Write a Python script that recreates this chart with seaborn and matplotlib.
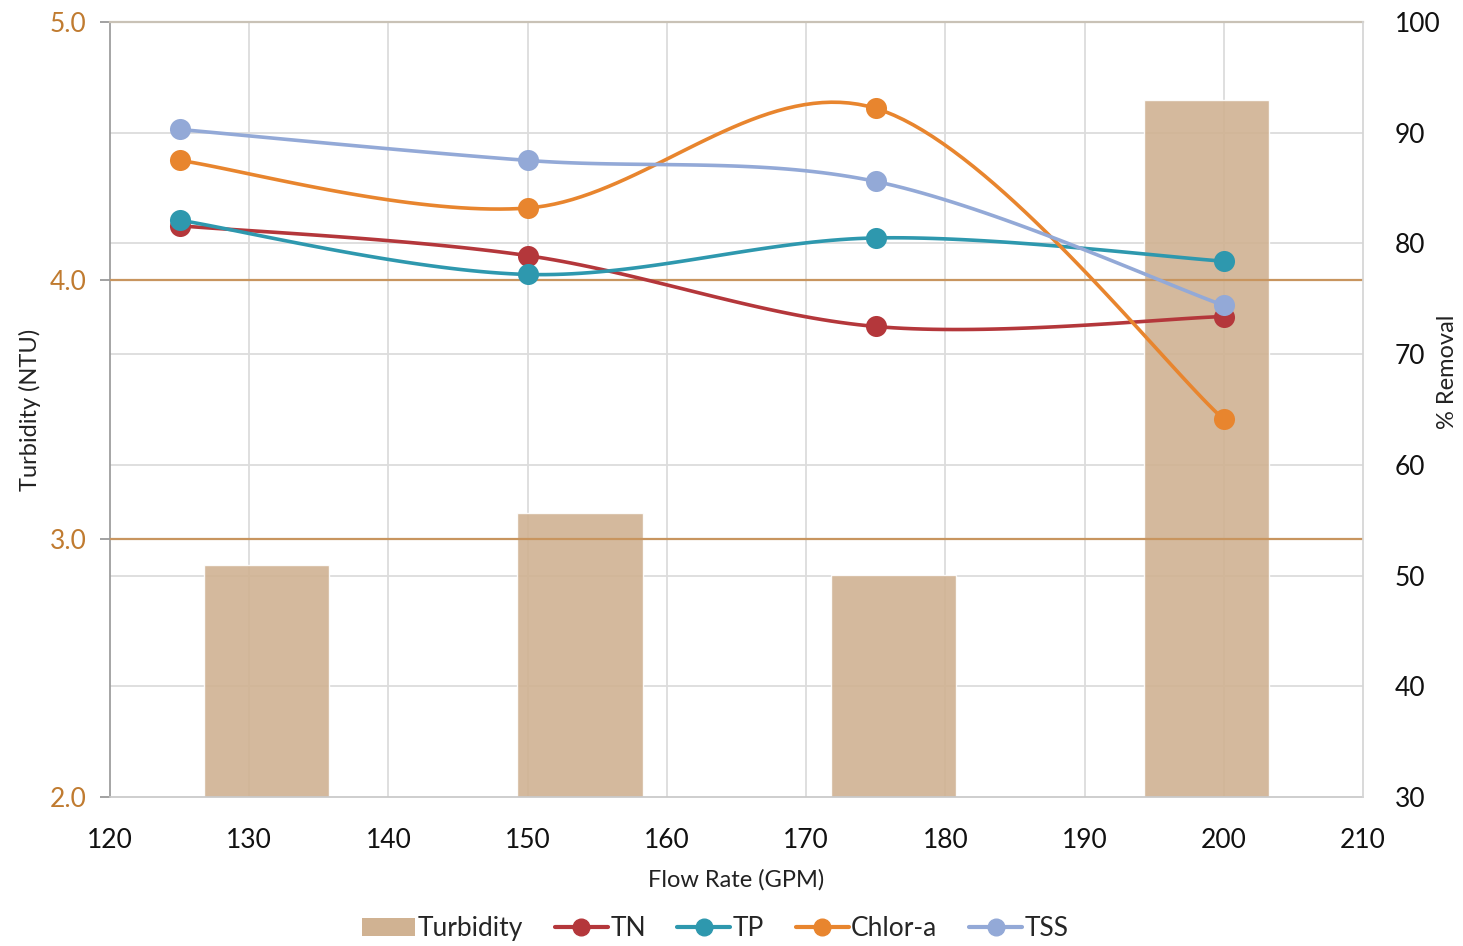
import numpy as np
import matplotlib
matplotlib.use("Agg")
import matplotlib.pyplot as plt
import seaborn as sns
from matplotlib.patches import Patch
from matplotlib.lines import Line2D

flow = [125, 150, 175, 200]
bar_pos = [131.25, 153.75, 176.25, 198.75]
turbidity = [2.90, 3.10, 2.86, 4.70]
tn = [81.6, 78.9, 72.5, 73.4]
tp = [82.1, 77.2, 80.5, 78.4]
chlor = [87.5, 83.2, 92.2, 64.1]
tss = [90.3, 87.5, 85.6, 74.4]

series = {"TN": (tn, "#b4373b"), "TP": (tp, "#2e98ae"),
          "Chlor-a": (chlor, "#e8852e"), "TSS": (tss, "#93a9d7")}


def smooth(x, y, n=40):
    # catmull-rom curve through the points, like Excel's smoothed line
    p = np.column_stack([x, y]).astype(float)
    p = np.vstack([p[0], p, p[-1]])
    out = []
    t = np.linspace(0, 1, n)[:, None]
    for i in range(1, len(p) - 2):
        p0, p1, p2, p3 = p[i - 1], p[i], p[i + 1], p[i + 2]
        c1 = p1 + (p2 - p0) / 6
        c2 = p2 - (p3 - p1) / 6
        seg = (1 - t) ** 3 * p1 + 3 * (1 - t) ** 2 * t * c1 + 3 * (1 - t) * t ** 2 * c2 + t ** 3 * p2
        out.append(seg)
    out = np.vstack(out)
    return out[:, 0], out[:, 1]


sns.set_theme(style="white")
plt.rcParams["font.family"] = ["Lato", "DejaVu Sans"]

fig = plt.figure(figsize=(14.63, 9.46), dpi=100)
ax = fig.add_axes([0.0752, 0.1575, 0.8565, 0.8192])
ax2 = ax.twinx()

ax.set_xlim(120, 210)
ax.set_ylim(2.0, 5.0)
ax2.set_ylim(30, 100)
ax.set_xticks(range(120, 211, 10))
ax.set_yticks([2.0, 3.0, 4.0, 5.0])
ax2.set_yticks(range(30, 101, 10))

# gridlines
for xv in range(130, 210, 10):
    ax.axvline(xv, color="#dcdcdc", lw=1.3, zorder=0)
for yv in range(40, 100, 10):
    ax.axhline(2 + (yv - 30) * 3 / 70, color="#dcdcdc", lw=1.3, zorder=0)
for yv in [3.0, 4.0]:
    ax.axhline(yv, color="#c8955f", lw=1.6, zorder=3)

ax.bar(bar_pos, [v - 2.0 for v in turbidity], bottom=2.0, width=9.0,
       color="#d0b292", alpha=0.9, zorder=2)

for name, (vals, col) in series.items():
    sx, sy = smooth(flow, vals)
    ax2.plot(sx, sy, color=col, lw=2.6, zorder=3, solid_capstyle="round")
    sns.scatterplot(x=flow, y=vals, ax=ax2, color=col, s=230, edgecolor=col, linewidth=0, zorder=4)

for s in ["top", "right"]:
    ax.spines[s].set_color("#c9c2b6")
    ax2.spines[s].set_color("#d5d5d5")
ax2.spines["top"].set_visible(False)
ax2.spines["left"].set_visible(False)
ax2.spines["bottom"].set_visible(False)
ax.spines["left"].set_color("#9a9a9a")
ax.spines["bottom"].set_color("#c8c8c8")
ax.spines["right"].set_visible(False)
ax.spines["top"].set_linewidth(1.6)

ax.tick_params(axis="y", colors="#9a9a9a", labelcolor="#c07b30", labelsize=19,
               length=7, width=1.3, left=True, pad=10)
ax.tick_params(axis="x", labelsize=19, labelcolor="#111111", bottom=False, pad=16)
ax2.tick_params(axis="y", labelsize=19, labelcolor="#111111", right=False, pad=17)
ax.set_yticklabels(["2.0", "3.0", "4.0", "5.0"])

ax.set_xlabel("Flow Rate (GPM)", fontsize=17, color="#222222", labelpad=12)
ax.set_ylabel("Turbidity (NTU)", fontsize=17, color="#222222", labelpad=6)
fig.text(1447 / 1463, 1 - 372 / 946, "% Removal", rotation=90, ha="center", va="center",
         fontsize=17, color="#222222")

handles = [Patch(facecolor="#d0b292", edgecolor="none", label="Turbidity")]
for name, (vals, col) in series.items():
    handles.append(Line2D([0], [0], color=col, lw=3, marker="o", markersize=12, label=name))
fig.legend(handles=handles, loc="center", bbox_to_anchor=(0.489, 0.018), ncol=5, frameon=False,
           fontsize=19, handlelength=2.0, handletextpad=0.1, columnspacing=1.2)

fig.savefig("out.png", dpi=100)
